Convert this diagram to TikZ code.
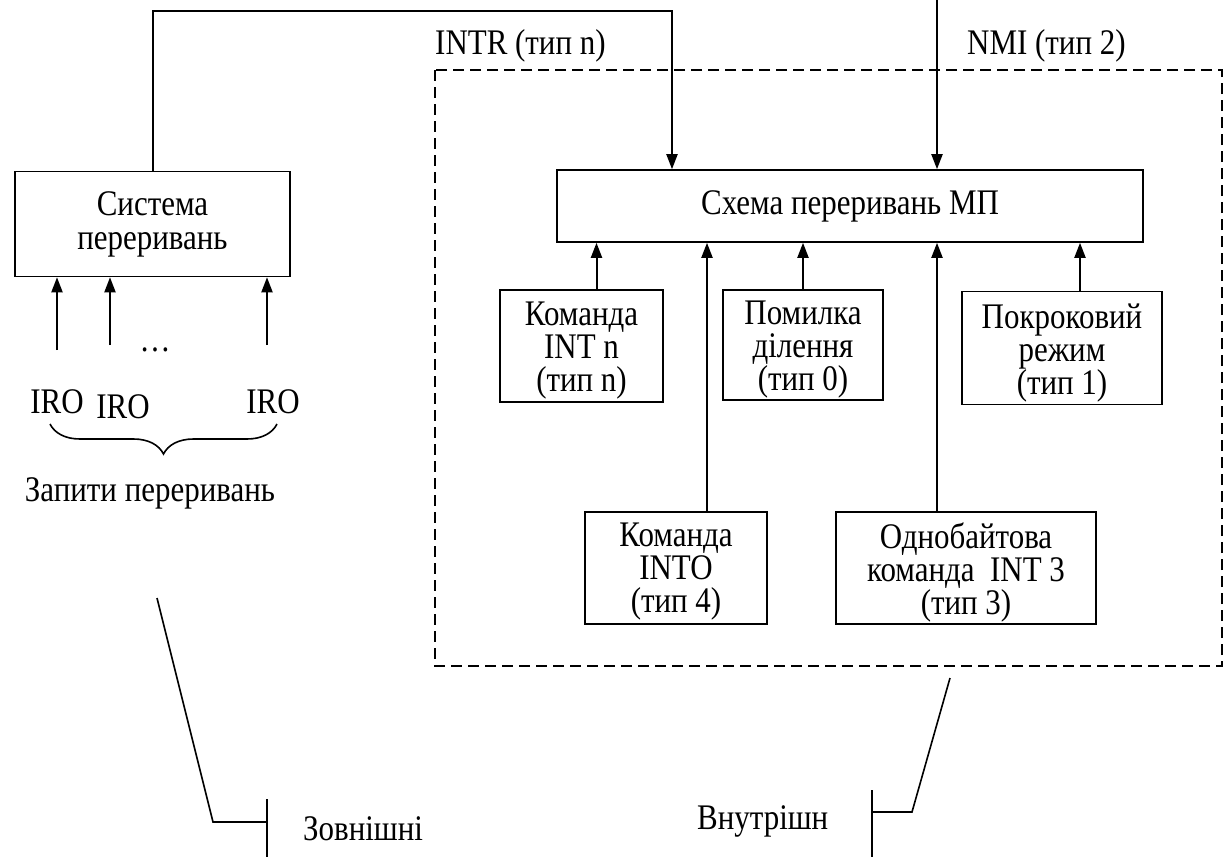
\documentclass[tikz,border=0pt]{standalone}
\usepackage{fontspec}
\setmainfont{Liberation Serif}[FakeStretch=0.86]
\usetikzlibrary{arrows.meta,positioning,decorations.pathreplacing}
\tikzset{
  blk/.style    ={draw,line width=1.6pt,align=center,inner sep=2pt,
                  font=\fontsize{36}{34}\selectfont},
  lbl/.style    ={inner sep=0pt,font=\fontsize{36}{33}\selectfont},
  txt/.style    ={lbl,align=center},
  zone/.style   ={draw,dashed,line width=2pt,dash pattern=on 11pt off 6pt},
  sig/.style    ={-{Triangle[length=15pt,width=11pt]},line width=2pt},
  lead/.style   ={line width=1.6pt}
}
\begin{document}
\begin{tikzpicture}[x=1pt,y=-1pt]
  \useasboundingbox (0,0) rectangle (1224,857);
  % blocks
  \node[blk,minimum width=275pt,minimum height=105pt] (sys) at (152.5,224) {Система\\переривань};
  \node[blk,minimum width=586pt,minimum height=72pt] (scheme) at (850,206) {Схема переривань МП};
  \node[blk,minimum width=163pt,minimum height=112pt] (intn) at (581.5,346) {};
  \node[blk,minimum width=160pt,minimum height=110pt] (diverr) at (803,345) {};
  \node[blk,minimum width=200pt,minimum height=113pt] (stepmode) at (1062,348) {};
  \node[blk,minimum width=182pt,minimum height=112pt] (into) at (676,568) {};
  \node[blk,minimum width=260pt,minimum height=112pt] (int3) at (966,568) {};
  \node[txt] (intnt) at ([yshift=-5pt]intn.center) {Команда\\INT n\\(тип n)};
  \node[txt] (diverrt) at ([yshift=-5pt]diverr.center) {Помилка\\ділення\\(тип 0)};
  \node[txt] (stepmodet) at ([yshift=-5pt]stepmode.center) {Покроковий\\режим\\(тип 1)};
  \node[txt] (intot) at ([yshift=-4pt]into.center) {Команда\\INTO\\(тип 4)};
  \node[txt] (int3t) at ([yshift=-4pt]int3.center) {Однобайтова\\команда~ INT 3\\(тип 3)};
  % internal zone
  \draw[zone] (435,70) rectangle (1222,666);
  % top signals
  \coordinate (top) at (0,11);
  \coordinate (intrin) at ([xshift=-178pt]scheme.north);
  \coordinate (nmitop) at (937,0);
  \draw[sig] (sys.north) |- (top -| intrin) -- (intrin);
  \draw[sig] (nmitop) -- (nmitop |- scheme.north);
  \node[lbl,anchor=base west] (intrlbl) at (435,54) {INTR (тип n)};
  \node[lbl,anchor=base west] (nmilbl) at (967,54) {NMI (тип 2)};
  % internal sources
  \draw[sig] ([xshift=15pt]intn.north) -- ([xshift=15pt]intn.north |- scheme.south);
  \draw[sig] (diverr.north) -- (diverr.north |- scheme.south);
  \draw[sig] ([xshift=18pt]stepmode.north) -- ([xshift=18pt]stepmode.north |- scheme.south);
  \draw[sig] ([xshift=31pt]into.north) -- ([xshift=31pt]into.north |- scheme.south);
  \draw[sig] ([xshift=-29pt]int3.north) -- ([xshift=-29pt]int3.north |- scheme.south);
  % external requests
  \coordinate (q1) at (57,350);
  \coordinate (q2) at (110,345);
  \coordinate (q3) at (267,345);
  \foreach \q in {q1,q2,q3}
    \draw[sig] (\q) -- (\q |- sys.south);
  \node[lbl] (dots) at (155,350) {\dots};
  \node[lbl] (irq1) at (57,402) {IRO};
  \node[lbl] (irq2) at (123,407) {IRO};
  \node[lbl] (irq3) at (273,402) {IRO};
  \draw[lead,decorate,decoration={brace,mirror,amplitude=30pt}] (50,424) -- (277,424);
  \node[lbl] (req) at (150,493) {Запити переривань};
  % leaders
  \coordinate (ext1) at (157,598);
  \coordinate (ext2) at (213,822);
  \coordinate (ext3) at (267,822);
  \draw[lead] (ext1) -- (ext2) -- (ext3);
  \draw[lead] (267,799) -- (267,857);
  \node[lbl,anchor=base west] (extlbl) at (303,840) {Зовнішні};
  \coordinate (int1) at (950,678);
  \coordinate (int2) at (912,812);
  \coordinate (int3c) at (872,812);
  \draw[lead] (int1) -- (int2) -- (int3c);
  \draw[lead] (872,790) -- (872,857);
  \node[lbl,anchor=base west] (intlbl) at (697,829) {Внутрішн};
\end{tikzpicture}
\end{document}
